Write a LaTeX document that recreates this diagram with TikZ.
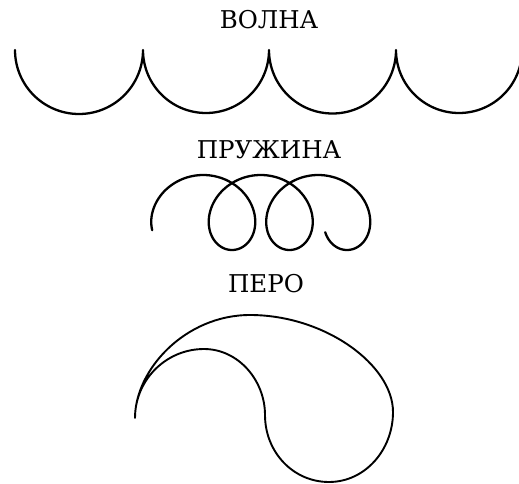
\documentclass[tikz,border=0pt]{standalone}
\usepackage{fontspec}
\setmainfont{DejaVu Serif}
\usepackage{tikz}

\begin{document}
\begin{tikzpicture}[
    x=1pt, y=1pt,
    heading/.style={font=\fontsize{24.5}{28}\selectfont, inner sep=0pt},
    curve/.style={line width=2.3pt, line join=round, line cap=round},
    thin curve/.style={line width=1.9pt, line join=round, line cap=round}
]
\useasboundingbox (0,0) rectangle (519,-484);

% Wave
\node [heading] (volna) at (269,-20) {ВОЛНА};
\draw [curve] (15,-50) arc[start angle=180, end angle=360, radius=64pt]
              arc[start angle=180, end angle=360, radius=63pt]
              arc[start angle=180, end angle=360, radius=63.5pt]
              arc[start angle=180, end angle=360, radius=63pt];

% Spring
\node [heading] (pruzhina) at (269,-150) {ПРУЖИНА};
\draw [curve] plot[domain=1.08:19.87, samples=300, smooth, variable=\t]
    ({174.5 + 9.15*\t - 36.5*sin(\t r)}, {-(212.5 + 37.5*cos(\t r))});

% Feather
\node [heading] (pero) at (266,-284) {ПЕРО};
\draw [thin curve] (135,-418) .. controls (135,-380) and (166,-349) .. (204,-349)
    .. controls (238,-349) and (265,-380) .. (265,-415)
    .. controls (265,-452) and (293,-482) .. (329,-482)
    .. controls (365,-482) and (393,-450) .. (393,-412)
    .. controls (393,-365) and (325,-315) .. (250,-315)
    .. controls (185,-315) and (135,-370) .. (135,-418);

\end{tikzpicture}
\end{document}
